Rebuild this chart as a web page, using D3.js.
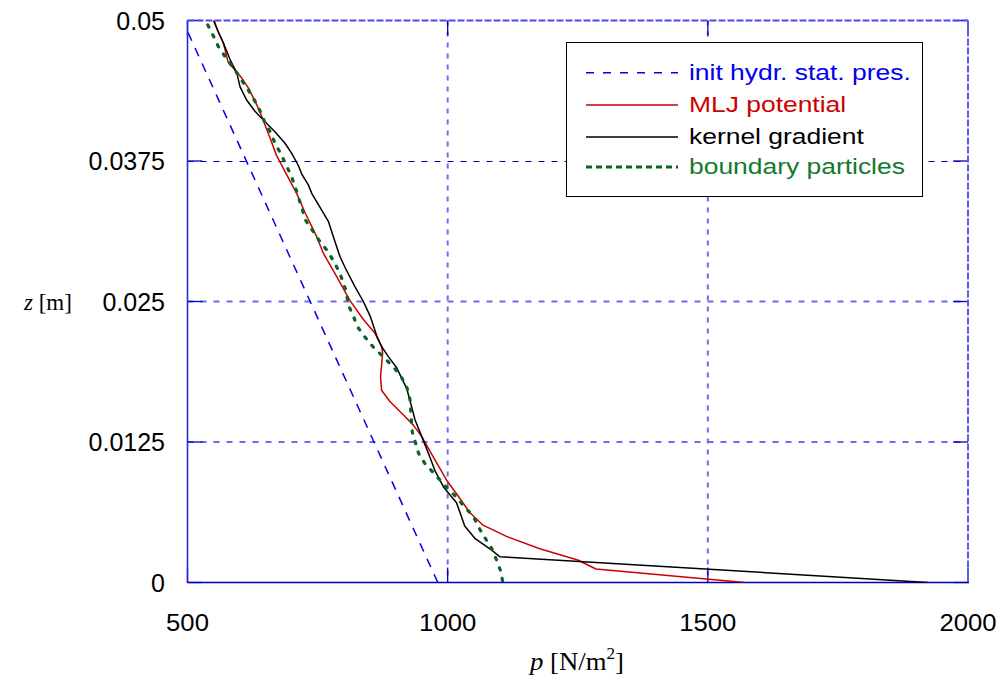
<!DOCTYPE html>
<html>
<head>
<meta charset="utf-8">
<script src="https://cdn.jsdelivr.net/npm/d3@7"></script>
<style>
  html, body { margin: 0; padding: 0; background: #fff; }
  svg { display: block; }
</style>
</head>
<body>
<svg id="chart" width="1000" height="682"></svg>
<script>
// Pressure profiles p(z) in a water column, [p (N/m^2), z (m)]
const hydrostatic = [[981, 0], [490.5, 0.05]];

const mljPotential = [
  [551, 0.0500], [559, 0.0490], [569, 0.0480], [578, 0.0463], [604, 0.0449],
  [617, 0.0440], [630, 0.0428], [639, 0.0419], [649, 0.0407], [659, 0.0395],
  [671, 0.0380], [687, 0.0366], [710, 0.0346], [726, 0.0329], [748, 0.0308],
  [761, 0.0293], [787, 0.0272], [812, 0.0251], [838, 0.0234], [860, 0.0222],
  [873, 0.0210], [875, 0.0204], [871, 0.0183], [873, 0.0171], [889, 0.0161],
  [915, 0.0149], [934, 0.0140], [950, 0.0130], [972, 0.0112], [998, 0.0091],
  [1017, 0.0079], [1043, 0.0062], [1068, 0.0051], [1113, 0.0041], [1177, 0.0030],
  [1250, 0.0020], [1285, 0.0012], [1571, 0]
];

const kernelGradient = [
  [550, 0.0500], [559, 0.0490], [569, 0.0480], [582, 0.0465], [595, 0.0453],
  [601, 0.0441], [614, 0.0429], [630, 0.0419], [649, 0.0410], [668, 0.0401],
  [687, 0.0391], [700, 0.0382], [713, 0.0371], [720, 0.0363], [732, 0.0354],
  [739, 0.0346], [771, 0.0321], [780, 0.0308], [793, 0.0290], [803, 0.0280],
  [822, 0.0263], [838, 0.0250], [851, 0.0237], [864, 0.0219], [873, 0.0210],
  [886, 0.0201], [902, 0.0191], [921, 0.0173], [931, 0.0156], [937, 0.0145],
  [950, 0.0130], [963, 0.0115], [976, 0.0099], [992, 0.0085], [1017, 0.0071],
  [1033, 0.0050], [1053, 0.0039], [1081, 0.0030], [1100, 0.0023], [1923, 0]
];

const boundaryParticles = [
  [539, 0.0496], [550, 0.0486], [559, 0.0477], [575, 0.0466], [591, 0.0456],
  [604, 0.0447], [617, 0.0438], [630, 0.0428], [641, 0.0418], [649, 0.0409],
  [659, 0.0401], [668, 0.0391], [681, 0.0380], [691, 0.0370], [700, 0.0361],
  [707, 0.0352], [713, 0.0343], [720, 0.0333], [726, 0.0323], [739, 0.0314],
  [755, 0.0303], [769, 0.0295], [782, 0.0285], [793, 0.0275], [805, 0.0259],
  [809, 0.0247], [818, 0.0238], [826, 0.0228], [838, 0.0220], [856, 0.0210],
  [878, 0.0200], [897, 0.0191], [912, 0.0182], [922, 0.0173], [928, 0.0162],
  [929, 0.0152], [932, 0.0134], [944, 0.0115], [956, 0.0106], [976, 0.0096],
  [995, 0.0086], [1017, 0.0076], [1031, 0.0068], [1049, 0.0059], [1061, 0.0048],
  [1074, 0.0038], [1085, 0.0030], [1094, 0.0020], [1102, 0.0010], [1106, 0]
];

const xTicks = [500, 1000, 1500, 2000];
const yTicks = [0, 0.0125, 0.025, 0.0375, 0.05];
const yTickLabels = ["0", "0.0125", "0.025", "0.0375", "0.05"];
const legendLabels = ["init hydr. stat. pres.", "MLJ potential", "kernel gradient", "boundary particles"];

const svg = d3.select("#chart");
const pLeft = 187.5, pRight = 968, pTop = 20.5, pBottom = 582.5;
const sans = "Arial, 'Liberation Sans', sans-serif";
const serif = "'Times New Roman', 'Liberation Serif', serif";

const x = d3.scaleLinear().domain([500, 2000]).range([pLeft, pRight]);
const y = d3.scaleLinear().domain([0, 0.05]).range([pBottom, pTop]);

// clip region for the curves
svg.append("defs").append("clipPath").attr("id", "plotClip")
  .append("rect").attr("x", pLeft).attr("y", pTop)
  .attr("width", pRight - pLeft).attr("height", pBottom - pTop);

// grid lines
const grid = svg.append("g");
grid.selectAll("line.gx").data(xTicks.slice(1, -1)).join("line")
  .attr("x1", d => x(d)).attr("x2", d => x(d))
  .attr("y1", pTop).attr("y2", pBottom)
  .attr("stroke", "#6c6cee").attr("stroke-width", 2).attr("stroke-dasharray", "5,6");
grid.selectAll("line.gy").data(yTicks.slice(1, -1)).join("line")
  .attr("y1", d => d === 0.0375 ? Math.floor(y(d)) + 0.5 : y(d))
  .attr("y2", d => d === 0.0375 ? Math.floor(y(d)) + 0.5 : y(d))
  .attr("x1", pLeft).attr("x2", pRight)
  .attr("stroke", d => d === 0.0375 ? "#0000a0" : "#6c6cee")
  .attr("stroke-width", d => d === 0.0375 ? 1 : 2)
  .attr("stroke-dasharray", "6,7");

// inward tick marks on all four sides
const tickLen = 15;
const ticks = svg.append("g").attr("stroke", "#0000cc").attr("stroke-width", 1.3);
xTicks.forEach(v => {
  ticks.append("line").attr("x1", x(v)).attr("x2", x(v)).attr("y1", pBottom).attr("y2", pBottom - tickLen);
  ticks.append("line").attr("x1", x(v)).attr("x2", x(v)).attr("y1", pTop).attr("y2", pTop + tickLen);
});
yTicks.forEach(v => {
  ticks.append("line").attr("y1", y(v)).attr("y2", y(v)).attr("x1", pLeft).attr("x2", pLeft + tickLen);
  ticks.append("line").attr("y1", y(v)).attr("y2", y(v)).attr("x1", pRight).attr("x2", pRight - tickLen);
});

// frame
svg.append("line").attr("x1", pLeft).attr("x2", pLeft).attr("y1", pTop).attr("y2", pBottom)
  .attr("stroke", "#2a2ad2").attr("stroke-width", 1.6);
svg.append("line").attr("x1", pLeft).attr("x2", pRight).attr("y1", pTop).attr("y2", pTop)
  .attr("stroke", "#4a4ae6").attr("stroke-width", 2).attr("stroke-dasharray", "7,2");
svg.append("line").attr("x1", pRight).attr("x2", pRight).attr("y1", pTop).attr("y2", pBottom)
  .attr("stroke", "#5a5aea").attr("stroke-width", 2).attr("stroke-dasharray", "7,2");
svg.append("line").attr("x1", pLeft).attr("x2", pRight + 1).attr("y1", pBottom).attr("y2", pBottom)
  .attr("stroke", "#0000bb").attr("stroke-width", 1.6);

// curves
const line = d3.line().x(d => x(d[0])).y(d => y(d[1]));
const curves = svg.append("g").attr("clip-path", "url(#plotClip)").attr("fill", "none");

const styles = [
  { data: hydrostatic, color: "#0000ee", width: 1.5, dash: "9,8", cap: "butt" },
  { data: mljPotential, color: "#cc0000", width: 1.5, dash: null, cap: "butt" },
  { data: kernelGradient, color: "#000000", width: 1.5, dash: null, cap: "butt" },
  { data: boundaryParticles, color: "#0a6424", width: 3.2, dash: "2.4,8.6", cap: "round" }
];
styles.forEach(s => {
  curves.append("path").datum(s.data).attr("d", line)
    .attr("stroke", s.color).attr("stroke-width", s.width)
    .attr("stroke-dasharray", s.dash).attr("stroke-linecap", s.cap)
    .attr("stroke-linejoin", "round");
});

// text helper with optional horizontal stretch
function label(g, tx, ty, anchor, size, str, color, sx, family) {
  return g.append("text")
    .attr("transform", `translate(${tx},${ty}) scale(${sx},1)`)
    .attr("text-anchor", anchor)
    .style("font-family", family || sans).style("font-size", size + "px")
    .attr("fill", color || "#000").text(str);
}
const labels = svg.append("g");
xTicks.forEach(v => label(labels, x(v), 631, "middle", 24, String(v), "#000", 1.07));
yTicks.forEach((v, i) => label(labels, 165, y(v) + 9, "end", 25, yTickLabels[i], "#000", 1.0));

// axis titles
const zt = label(labels, 24, 310, "start", 23, "", "#000", 1.0, serif);
zt.append("tspan").style("font-style", "italic").text("z");
zt.append("tspan").text(" [m]");

const pt = label(labels, 577, 670, "middle", 25, "", "#000", 1.07, serif);
pt.append("tspan").style("font-style", "italic").text("p");
pt.append("tspan").text(" [N/m");
pt.append("tspan").style("font-size", "16px").attr("dy", -11).text("2");
pt.append("tspan").attr("dy", 11).text("]");

// legend
const lg = svg.append("g");
lg.append("rect").attr("x", 566.5).attr("y", 42.5).attr("width", 356).attr("height", 154)
  .attr("fill", "#fff").attr("stroke", "#000").attr("stroke-width", 1);
const rowY = [72.7, 105, 137, 167];
const textColors = ["#0000ee", "#cc0000", "#000000", "#117a2e"];
styles.forEach((s, i) => {
  lg.append("line").attr("x1", 586).attr("x2", 678).attr("y1", rowY[i]).attr("y2", rowY[i])
    .attr("stroke", s.color).attr("stroke-width", i === 3 ? 3 : s.width)
    .attr("stroke-dasharray", i === 0 ? "8,9" : (i === 3 ? "6,4" : null));
  label(lg, 689, rowY[i] + 6.8, "start", 21.5, legendLabels[i], textColors[i], 1.23);
});
</script>
</body>
</html>
